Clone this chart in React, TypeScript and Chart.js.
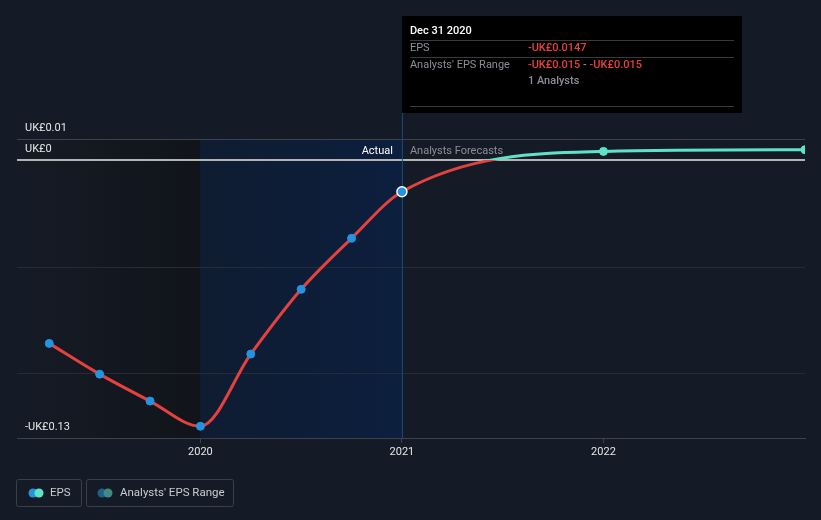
import React, { useEffect, useRef } from "react";
import { Chart, registerables } from "chart.js";

Chart.register(...registerables);

// ---- data ----
const actualDates = [2019.25, 2019.5, 2019.75, 2020.0, 2020.25, 2020.5, 2020.75, 2021.0];
const actualEps = [-0.0857, -0.1001, -0.1127, -0.1245, -0.0907, -0.0604, -0.0365, -0.0147];
const forecastDates = [2022.0, 2023.0];
const forecastEps = [0.0042, 0.005];
const xTickValues = [2020, 2021, 2022];
const yTickValues = [0.01, 0, -0.05, -0.1, -0.13];
const yLabelled = [0.01, 0, -0.13];
const tooltipTitle = "Dec 31 2020";
const tooltipRows = [
  { label: "EPS", value: "-UK£0.0147" },
  { label: "Analysts' EPS Range", value: "-UK£0.015 - -UK£0.015", sub: "1 Analysts" },
];
const legendItems = ["EPS", "Analysts' EPS Range"];

const BG = "#151b26";
const RED = "#e5413f";
const TEAL = "#5fe3c8";
const BLUE = "#2394df";
const FONT = "Roboto, 'Noto Sans', sans-serif";

function fmtY(v: number) {
  if (v === 0) return "UK£0";
  const s = "UK£" + Math.abs(v).toFixed(2);
  return v < 0 ? "-" + s : s;
}

const bgPlugin = {
  id: "bgShade",
  beforeDraw(chart: any) {
    const { ctx, chartArea, scales, width, height } = chart;
    ctx.save();
    ctx.fillStyle = BG;
    ctx.fillRect(0, 0, width, height);
    const x = scales.x;
    const x2020 = x.getPixelForValue(2020);
    const x2021 = x.getPixelForValue(2021);
    const top = chartArea.top;
    const bot = chartArea.bottom;
    let g = ctx.createLinearGradient(chartArea.left, 0, x2020, 0);
    g.addColorStop(0, "rgba(16,19,24,0.0)");
    g.addColorStop(1, "rgba(16,19,24,0.85)");
    ctx.fillStyle = g;
    ctx.fillRect(chartArea.left, top, x2020 - chartArea.left, bot - top);
    g = ctx.createLinearGradient(x2020, 0, x2021, 0);
    g.addColorStop(0, "#0f1c31");
    g.addColorStop(1, "#0c1f3e");
    ctx.fillStyle = g;
    ctx.fillRect(x2020, top, x2021 - x2020, bot - top);
    ctx.restore();
  },
  afterDatasetsDraw(chart: any) {
    const { ctx, scales } = chart;
    const x2021 = scales.x.getPixelForValue(2021);
    const y0 = scales.y.getPixelForValue(0);
    ctx.save();
    ctx.font = "11px " + FONT;
    ctx.textBaseline = "middle";
    ctx.textAlign = "right";
    ctx.fillStyle = "#ffffff";
    ctx.fillText("Actual", x2021 - 9, y0 - 9);
    ctx.textAlign = "left";
    ctx.fillStyle = "#8a8f98";
    ctx.fillText("Analysts Forecasts", x2021 + 8, y0 - 9);
    ctx.restore();
  },
  afterDraw(chart: any) {
    const { ctx, chartArea, scales } = chart;
    const x2021 = scales.x.getPixelForValue(2021);
    ctx.save();
    // crosshair line
    ctx.strokeStyle = "#1b4a80";
    ctx.lineWidth = 1;
    ctx.beginPath();
    ctx.moveTo(x2021 + 0.5, 113);
    ctx.lineTo(x2021 + 0.5, chartArea.bottom);
    ctx.stroke();
    // redraw the highlighted point on top
    const meta = chart.getDatasetMeta(0);
    const pt = meta.data[actualDates.length - 1];
    ctx.beginPath();
    ctx.arc(pt.x, pt.y, 5, 0, Math.PI * 2);
    ctx.fillStyle = BLUE;
    ctx.fill();
    ctx.lineWidth = 1.5;
    ctx.strokeStyle = "#ffffff";
    ctx.stroke();
    // tooltip box
    const bx = x2021;
    const by = 16;
    const bw = 340;
    const bh = 97;
    ctx.fillStyle = "#000000";
    ctx.fillRect(bx, by, bw, bh);
    const tx = bx + 8;
    const vx = bx + 126;
    ctx.textBaseline = "middle";
    ctx.textAlign = "left";
    ctx.font = "500 11px " + FONT;
    ctx.fillStyle = "#ffffff";
    ctx.fillText(tooltipTitle, tx, by + 15);
    const sep = (y: number) => {
      ctx.strokeStyle = "#3a3a3a";
      ctx.lineWidth = 1;
      ctx.beginPath();
      ctx.moveTo(tx, y + 0.5);
      ctx.lineTo(bx + bw - 8, y + 0.5);
      ctx.stroke();
    };
    sep(by + 24);
    ctx.font = "11px " + FONT;
    ctx.fillStyle = "#8a8f98";
    ctx.fillText(tooltipRows[0].label, tx, by + 32);
    ctx.font = "500 11px " + FONT;
    ctx.fillStyle = RED;
    ctx.fillText(tooltipRows[0].value, vx, by + 32);
    sep(by + 41);
    ctx.font = "11px " + FONT;
    ctx.fillStyle = "#8a8f98";
    ctx.fillText(tooltipRows[1].label, tx, by + 49);
    const parts = tooltipRows[1].value.split(" - ");
    ctx.font = "500 11px " + FONT;
    ctx.fillStyle = RED;
    ctx.fillText(parts[0], vx, by + 49);
    let w = ctx.measureText(parts[0]).width;
    ctx.fillStyle = "#8a8f98";
    ctx.fillText(" - ", vx + w, by + 49);
    w += ctx.measureText(" - ").width;
    ctx.fillStyle = RED;
    ctx.fillText(parts[1], vx + w, by + 49);
    ctx.fillStyle = "#8a8f98";
    ctx.fillText(tooltipRows[1].sub || "", vx, by + 65);
    sep(by + 90);
    // legend
    const drawBox = (x: number, w: number) => {
      ctx.strokeStyle = "#3a3f4a";
      ctx.lineWidth = 1;
      ctx.beginPath();
      (ctx as any).roundRect(x + 0.5, 479.5, w, 27, 2);
      ctx.stroke();
    };
    const dot = (x: number, c: string) => {
      ctx.beginPath();
      ctx.arc(x, 493, 4.5, 0, Math.PI * 2);
      ctx.fillStyle = c;
      ctx.fill();
    };
    ctx.font = "11.5px " + FONT;
    drawBox(16, 65);
    dot(33, BLUE);
    dot(39, TEAL);
    ctx.fillStyle = "#c9ccd1";
    ctx.fillText(legendItems[0], 50, 493);
    drawBox(86, 147);
    dot(102, "#1f5f8b");
    dot(108, "#3f8a83");
    ctx.fillStyle = "#c9ccd1";
    ctx.fillText(legendItems[1], 120, 493);
    ctx.restore();
  },
};

export default function App() {
  const ref = useRef<HTMLCanvasElement | null>(null);
  useEffect(() => {
    document.body.style.margin = "0";
    document.body.style.background = BG;
    const canvas = ref.current!;
    const lineColor = (c: any) => {
      const chart = c.chart;
      const { chartArea, scales } = chart;
      if (!chartArea) return RED;
      const y0 = scales.y.getPixelForValue(0);
      const g = chart.ctx.createLinearGradient(0, chartArea.top, 0, chartArea.bottom);
      const s = Math.min(1, Math.max(0, (y0 - chartArea.top) / (chartArea.bottom - chartArea.top)));
      g.addColorStop(0, TEAL);
      g.addColorStop(s, TEAL);
      g.addColorStop(s, RED);
      g.addColorStop(1, RED);
      return g;
    };
    const allDates = [...actualDates, ...forecastDates];
    const allEps = [...actualEps, ...forecastEps];
    const nA = actualDates.length;
    const chart = new Chart(canvas, {
      type: "line",
      data: {
        datasets: [
          {
            label: "EPS",
            data: allDates.map((d, i) => ({ x: d, y: allEps[i] })),
            borderColor: lineColor,
            borderWidth: 3,
            cubicInterpolationMode: "monotone",
            pointRadius: 4,
            pointBackgroundColor: allDates.map((_, i) => (i < nA ? BLUE : TEAL)),
            pointBorderColor: allDates.map((_, i) => (i < nA ? BLUE : TEAL)),
            pointBorderWidth: 1,
          },
        ],
      },
      options: {
        responsive: false,
        animation: false,
        devicePixelRatio: 1,
        layout: { padding: { left: 17, right: 16, top: 139, bottom: 60 } },
        plugins: { legend: { display: false }, tooltip: { enabled: false } },
        scales: {
          x: {
            type: "linear",
            min: 2019.09,
            max: 2023.0,
            afterBuildTicks: (s: any) => {
              s.ticks = xTickValues.map((v) => ({ value: v }));
            },
            afterFit: (s: any) => {
              s.height = 22;
            },
            grid: { drawOnChartArea: false, drawTicks: true, tickLength: 5, color: "#3d424b" },
            border: { color: "#3d424b", width: 1 },
            ticks: {
              color: "#e6e6e6",
              font: { family: FONT, size: 11 },
              padding: 3,
              callback: (v: any) => String(v),
              maxRotation: 0,
            },
          },
          y: {
            min: -0.13,
            max: 0.01,
            afterBuildTicks: (s: any) => {
              s.ticks = yTickValues.map((v) => ({ value: v }));
            },
            afterFit: (s: any) => {
              s.width = 0;
            },
            grid: {
              drawTicks: false,
              color: (c: any) => {
                const v = c.tick && c.tick.value;
                if (v === 0) return "#b4b4b4";
                if (v === 0.01) return "#3d424b";
                if (v === -0.13) return "rgba(0,0,0,0)";
                return "#262c37";
              },
              lineWidth: (c: any) => (c.tick && c.tick.value === 0 ? 2 : 1),
            },
            border: { display: false },
            ticks: {
              mirror: true,
              padding: 8,
              labelOffset: -11,
              color: "#e6e6e6",
              font: { family: FONT, size: 11 },
              callback: (v: any) => (yLabelled.includes(v) ? fmtY(v) : ""),
            },
          },
        },
      },
      plugins: [bgPlugin],
    } as any);
    return () => chart.destroy();
  }, []);
  return <canvas ref={ref} width={821} height={520} style={{ display: "block" }} />;
}
